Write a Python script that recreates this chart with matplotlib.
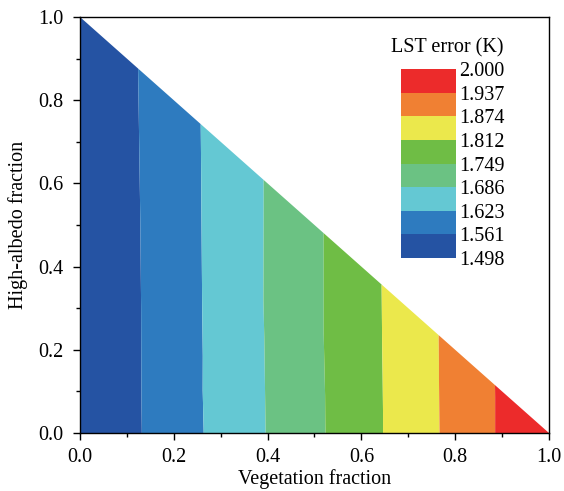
import matplotlib
matplotlib.use("Agg")
import matplotlib.pyplot as plt
import matplotlib.tri as mtri
from matplotlib.colors import ListedColormap, BoundaryNorm
from matplotlib.ticker import MultipleLocator

plt.rcParams['font.family'] = ['Liberation Serif', 'DejaVu Serif']

# LST error (K) read along the bottom edge (high-albedo = 0)
veg_nodes = [0.0, 0.1, 0.2, 0.3, 0.4, 0.5, 0.6, 0.7, 0.8, 0.9, 1.0]
err_bottom = [1.498, 1.546, 1.593, 1.640, 1.688, 1.737, 1.788, 1.840, 1.891, 1.945, 2.000]
# and along the hypotenuse (vegetation + high-albedo = 1)
err_top = [1.502, 1.550, 1.596, 1.643, 1.690, 1.739, 1.790, 1.841, 1.892, 1.945, 2.000]

levels = [1.498, 1.561, 1.623, 1.686, 1.749, 1.812, 1.874, 1.937, 2.000]
level_labels = ['1.498', '1.561', '1.623', '1.686', '1.749', '1.812', '1.874', '1.937', '2.000']
band_colors = ['#2553a3', '#2e7bbf', '#64c8d3', '#6bc283', '#6fbd45',
               '#ebe84c', '#f08033', '#ec2b2b']

# build triangle points
xs, ys, zs = [], [], []
for v, e in zip(veg_nodes, err_bottom):
    xs.append(v); ys.append(0.0); zs.append(e)
for v, e in zip(veg_nodes[:-1], err_top[:-1]):
    xs.append(v); ys.append(1.0 - v); zs.append(e)
tri = mtri.Triangulation(xs, ys)

cmap = ListedColormap(band_colors)
norm = BoundaryNorm(levels, cmap.N)

fig = plt.figure(figsize=(5.64, 4.91), dpi=100)
ax = fig.add_axes([0.1418, 0.1181, 0.8316, 0.8473])
cs = ax.tricontourf(tri, zs, levels=levels, cmap=cmap, norm=norm, antialiased=True)

ax.set_xlim(0, 1)
ax.set_ylim(0, 1)
ax.xaxis.set_major_locator(MultipleLocator(0.2))
ax.xaxis.set_minor_locator(MultipleLocator(0.1))
ax.yaxis.set_major_locator(MultipleLocator(0.2))
ax.yaxis.set_minor_locator(MultipleLocator(0.1))
ax.tick_params(which='both', direction='out', top=False, right=False, labelsize=14.5, width=1)
ax.tick_params(which='major', length=5)
ax.tick_params(which='minor', length=3)
ax.tick_params(axis='x', which='major', pad=6)
ax.tick_params(axis='y', which='major', pad=7)
for s in ax.spines.values():
    s.set_linewidth(1)
ax.set_xlabel('Vegetation fraction', fontsize=14.5, labelpad=1)
ax.set_ylabel('High-albedo fraction', fontsize=14.5, labelpad=7)

cax = fig.add_axes([0.711, 0.4745, 0.0975, 0.385])
cb = fig.colorbar(cs, cax=cax)
cb.outline.set_visible(False)
cb.set_ticks(levels)
cb.set_ticklabels(level_labels)
cax.tick_params(length=0, labelsize=14.5, pad=2)
fig.text(0.793, 0.902, 'LST error (K)', ha='center', va='center', fontsize=14.5)

fig.savefig('out.png', dpi=100)
